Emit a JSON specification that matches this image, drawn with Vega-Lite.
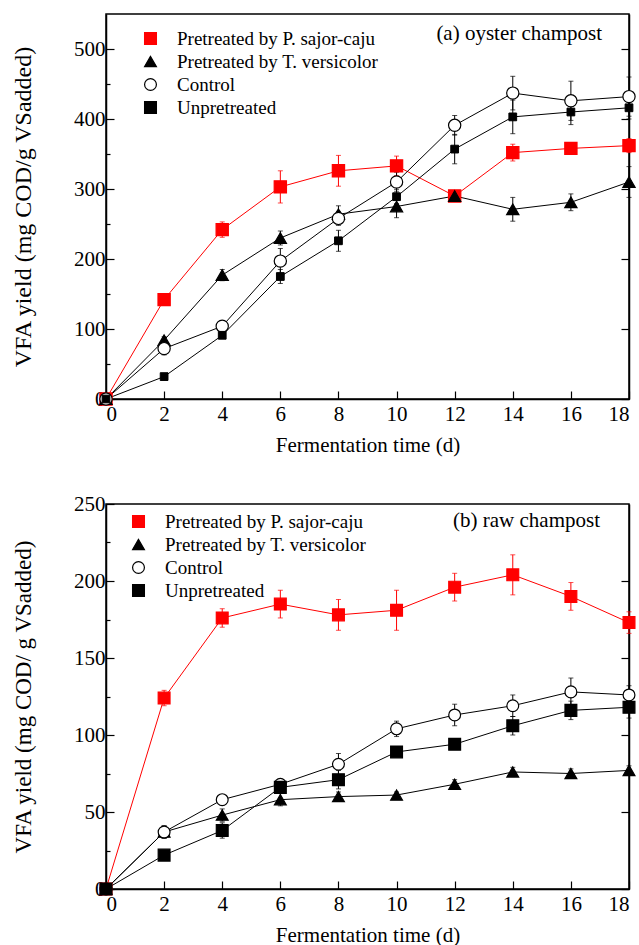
{
  "$schema": "https://vega.github.io/schema/vega-lite/v6.json",
  "padding": {"left": 10, "top": 13, "right": 8, "bottom": 0},
  "spacing": 36,
  "vconcat": [
    {
      "width": 523,
      "height": 385,
      "data": {"values": [
        {"t": 0, "v": 0, "e": 0, "s": "Pretreated by P. sajor-caju"},
        {"t": 2, "v": 142, "e": 4, "s": "Pretreated by P. sajor-caju"},
        {"t": 4, "v": 242, "e": 11, "s": "Pretreated by P. sajor-caju"},
        {"t": 6, "v": 303, "e": 23, "s": "Pretreated by P. sajor-caju"},
        {"t": 8, "v": 326, "e": 22, "s": "Pretreated by P. sajor-caju"},
        {"t": 10, "v": 333, "e": 14, "s": "Pretreated by P. sajor-caju"},
        {"t": 12, "v": 290, "e": 6, "s": "Pretreated by P. sajor-caju"},
        {"t": 14, "v": 352, "e": 12, "s": "Pretreated by P. sajor-caju"},
        {"t": 16, "v": 358, "e": 5, "s": "Pretreated by P. sajor-caju"},
        {"t": 18, "v": 362, "e": 10, "s": "Pretreated by P. sajor-caju"},
        {"t": 0, "v": 0, "e": 0, "s": "Pretreated by T. versicolor"},
        {"t": 2, "v": 84, "e": 5, "s": "Pretreated by T. versicolor"},
        {"t": 4, "v": 177, "e": 8, "s": "Pretreated by T. versicolor"},
        {"t": 6, "v": 230, "e": 10, "s": "Pretreated by T. versicolor"},
        {"t": 8, "v": 264, "e": 12, "s": "Pretreated by T. versicolor"},
        {"t": 10, "v": 275, "e": 16, "s": "Pretreated by T. versicolor"},
        {"t": 12, "v": 290, "e": 6, "s": "Pretreated by T. versicolor"},
        {"t": 14, "v": 271, "e": 17, "s": "Pretreated by T. versicolor"},
        {"t": 16, "v": 281, "e": 12, "s": "Pretreated by T. versicolor"},
        {"t": 18, "v": 310, "e": 22, "s": "Pretreated by T. versicolor"},
        {"t": 0, "v": 0, "e": 0, "s": "Control"},
        {"t": 2, "v": 72, "e": 9, "s": "Control"},
        {"t": 4, "v": 104, "e": 6, "s": "Control"},
        {"t": 6, "v": 197, "e": 18, "s": "Control"},
        {"t": 8, "v": 258, "e": 10, "s": "Control"},
        {"t": 10, "v": 310, "e": 14, "s": "Control"},
        {"t": 12, "v": 391, "e": 14, "s": "Control"},
        {"t": 14, "v": 437, "e": 24, "s": "Control"},
        {"t": 16, "v": 426, "e": 28, "s": "Control"},
        {"t": 18, "v": 432, "e": 28, "s": "Control"},
        {"t": 0, "v": 0, "e": 0, "s": "Unpretreated"},
        {"t": 2, "v": 32, "e": 3, "s": "Unpretreated"},
        {"t": 4, "v": 91, "e": 4, "s": "Unpretreated"},
        {"t": 6, "v": 175, "e": 10, "s": "Unpretreated"},
        {"t": 8, "v": 226, "e": 15, "s": "Unpretreated"},
        {"t": 10, "v": 289, "e": 10, "s": "Unpretreated"},
        {"t": 12, "v": 357, "e": 21, "s": "Unpretreated"},
        {"t": 14, "v": 403, "e": 24, "s": "Unpretreated"},
        {"t": 16, "v": 410, "e": 18, "s": "Unpretreated"},
        {"t": 18, "v": 416, "e": 16, "s": "Unpretreated"}
      ]},
      "title": {"text": "(a) oyster champost", "anchor": "end", "frame": "group", "dy": 34, "dx": -27, "fontSize": 21, "fontWeight": "normal", "font": "Liberation Serif", "color": "black"},
      "layer": [
        {
          "transform": [{"filter": "datum.e > 0"}],
          "mark": {"type": "errorbar", "ticks": true, "thickness": 1},
          "encoding": {
            "x": {"field": "t", "type": "quantitative", "scale": {"domain": [0, 18]}},
            "y": {"field": "v", "type": "quantitative", "scale": {"domain": [0, 550], "nice": false}, "axis": null},
            "yError": {"field": "e"},
            "color": {"field": "s", "type": "nominal", "scale": {"domain": ["Control", "Unpretreated", "Pretreated by P. sajor-caju", "Pretreated by T. versicolor"], "range": ["#000000", "#000000", "#ff0000", "#000000"]}, "legend": null}
          }
        },
        {
          "mark": {"type": "line", "strokeWidth": 1},
          "encoding": {
            "x": {"field": "t", "type": "quantitative", "scale": {"domain": [0, 18]},
              "axis": {"title": "Fermentation time (d)", "values": [0,1,2,3,4,5,6,7,8,9,10,11,12,13,14,15,16,17,18], "labelExpr": "datum.value % 2 === 0 ? datum.label : ''",
                "tickSize": {"condition": {"test": "datum.value % 2 === 0", "value": -8}, "value": -4}}},
            "y": {"field": "v", "type": "quantitative", "scale": {"domain": [0, 550], "nice": false},
              "axis": {"title": "VFA yield (mg COD/g VSadded)", "orient": "left", "values": [0,50,100,150,200,250,300,350,400,450,500], "labelExpr": "datum.value % 100 === 0 ? datum.label : ''",
                "tickSize": {"condition": {"test": "datum.value % 100 === 0", "value": -8}, "value": -4}}},
            "stroke": {"field": "s", "type": "nominal", "scale": {"domain": ["Pretreated by P. sajor-caju", "Pretreated by T. versicolor", "Control", "Unpretreated"], "range": ["#ff0000", "#000000", "#000000", "#000000"]},
              "legend": {"title": null, "orient": "none", "legendX": 35, "legendY": 15}}
          }
        },
        {
          "transform": [{"filter": "datum.s !== 'Unpretreated'"}],
          "mark": {"type": "point", "opacity": 1, "strokeWidth": 1.2, "size": 150},
          "encoding": {
            "x": {"field": "t", "type": "quantitative", "scale": {"domain": [0, 18]}},
            "y": {"field": "v", "type": "quantitative", "scale": {"domain": [0, 550], "nice": false},
              "axis": {"title": null, "orient": "right", "values": [0,100,200,300,400,500], "labels": false, "tickSize": -8}},
            "stroke": {"field": "s", "type": "nominal", "legend": {"title": null, "orient": "none", "legendX": 35, "legendY": 15}},
            "fill": {"field": "s", "type": "nominal", "scale": {"domain": ["Pretreated by P. sajor-caju", "Pretreated by T. versicolor", "Control", "Unpretreated"], "range": ["#ff0000", "#000000", "#ffffff", "#000000"]},
              "legend": {"title": null, "orient": "none", "legendX": 35, "legendY": 15}},
            "shape": {"field": "s", "type": "nominal", "scale": {"domain": ["Pretreated by P. sajor-caju", "Pretreated by T. versicolor", "Control", "Unpretreated"], "range": ["square", "triangle-up", "circle", "square"]},
              "legend": {"title": null, "orient": "none", "legendX": 35, "legendY": 15}}
          }
        },
        {
          "transform": [{"filter": "datum.s === 'Unpretreated'"}],
          "mark": {"type": "point", "opacity": 1, "strokeWidth": 1, "size": 60},
          "encoding": {
            "x": {"field": "t", "type": "quantitative", "scale": {"domain": [0, 18]}},
            "y": {"field": "v", "type": "quantitative", "scale": {"domain": [0, 550], "nice": false}, "axis": null},
            "stroke": {"field": "s", "type": "nominal", "legend": {"title": null, "orient": "none", "legendX": 35, "legendY": 15}},
            "fill": {"field": "s", "type": "nominal", "legend": {"title": null, "orient": "none", "legendX": 35, "legendY": 15}},
            "shape": {"field": "s", "type": "nominal", "legend": {"title": null, "orient": "none", "legendX": 35, "legendY": 15}}
          }
        }
      ],
      "resolve": {"axis": {"y": "independent"}}
    },
    {
      "width": 523,
      "height": 385,
      "data": {"values": [
        {"t": 0, "v": 0, "e": 0, "s": "Pretreated by P. sajor-caju"},
        {"t": 2, "v": 124, "e": 5, "s": "Pretreated by P. sajor-caju"},
        {"t": 4, "v": 176, "e": 6, "s": "Pretreated by P. sajor-caju"},
        {"t": 6, "v": 185, "e": 9, "s": "Pretreated by P. sajor-caju"},
        {"t": 8, "v": 178, "e": 10, "s": "Pretreated by P. sajor-caju"},
        {"t": 10, "v": 181, "e": 13, "s": "Pretreated by P. sajor-caju"},
        {"t": 12, "v": 196, "e": 9, "s": "Pretreated by P. sajor-caju"},
        {"t": 14, "v": 204, "e": 13, "s": "Pretreated by P. sajor-caju"},
        {"t": 16, "v": 190, "e": 9, "s": "Pretreated by P. sajor-caju"},
        {"t": 18, "v": 173, "e": 7, "s": "Pretreated by P. sajor-caju"},
        {"t": 0, "v": 0, "e": 0, "s": "Pretreated by T. versicolor"},
        {"t": 2, "v": 37, "e": 4, "s": "Pretreated by T. versicolor"},
        {"t": 4, "v": 48, "e": 4, "s": "Pretreated by T. versicolor"},
        {"t": 6, "v": 58, "e": 4, "s": "Pretreated by T. versicolor"},
        {"t": 8, "v": 60, "e": 3, "s": "Pretreated by T. versicolor"},
        {"t": 10, "v": 61, "e": 2, "s": "Pretreated by T. versicolor"},
        {"t": 12, "v": 68, "e": 3, "s": "Pretreated by T. versicolor"},
        {"t": 14, "v": 76, "e": 3, "s": "Pretreated by T. versicolor"},
        {"t": 16, "v": 75, "e": 3, "s": "Pretreated by T. versicolor"},
        {"t": 18, "v": 77, "e": 3, "s": "Pretreated by T. versicolor"},
        {"t": 0, "v": 0, "e": 0, "s": "Control"},
        {"t": 2, "v": 37, "e": 4, "s": "Control"},
        {"t": 4, "v": 58, "e": 3, "s": "Control"},
        {"t": 6, "v": 68, "e": 2, "s": "Control"},
        {"t": 8, "v": 81, "e": 7, "s": "Control"},
        {"t": 10, "v": 104, "e": 5, "s": "Control"},
        {"t": 12, "v": 113, "e": 7, "s": "Control"},
        {"t": 14, "v": 119, "e": 7, "s": "Control"},
        {"t": 16, "v": 128, "e": 9, "s": "Control"},
        {"t": 18, "v": 126, "e": 6, "s": "Control"},
        {"t": 0, "v": 0, "e": 0, "s": "Unpretreated"},
        {"t": 2, "v": 22, "e": 2, "s": "Unpretreated"},
        {"t": 4, "v": 38, "e": 5, "s": "Unpretreated"},
        {"t": 6, "v": 66, "e": 3, "s": "Unpretreated"},
        {"t": 8, "v": 71, "e": 6, "s": "Unpretreated"},
        {"t": 10, "v": 89, "e": 3, "s": "Unpretreated"},
        {"t": 12, "v": 94, "e": 2, "s": "Unpretreated"},
        {"t": 14, "v": 106, "e": 6, "s": "Unpretreated"},
        {"t": 16, "v": 116, "e": 6, "s": "Unpretreated"},
        {"t": 18, "v": 118, "e": 7, "s": "Unpretreated"}
      ]},
      "title": {"text": "(b) raw champost", "anchor": "end", "frame": "group", "dy": 42, "dx": -29, "fontSize": 21, "fontWeight": "normal", "font": "Liberation Serif", "color": "black"},
      "layer": [
        {
          "transform": [{"filter": "datum.e > 0"}],
          "mark": {"type": "errorbar", "ticks": true, "thickness": 1},
          "encoding": {
            "x": {"field": "t", "type": "quantitative", "scale": {"domain": [0, 18]}},
            "y": {"field": "v", "type": "quantitative", "scale": {"domain": [0, 250], "nice": false}, "axis": null},
            "yError": {"field": "e"},
            "color": {"field": "s", "type": "nominal", "scale": {"domain": ["Control", "Unpretreated", "Pretreated by P. sajor-caju", "Pretreated by T. versicolor"], "range": ["#000000", "#000000", "#ff0000", "#000000"]}, "legend": null}
          }
        },
        {
          "mark": {"type": "line", "strokeWidth": 1},
          "encoding": {
            "x": {"field": "t", "type": "quantitative", "scale": {"domain": [0, 18]},
              "axis": {"title": "Fermentation time (d)", "values": [0,1,2,3,4,5,6,7,8,9,10,11,12,13,14,15,16,17,18], "labelExpr": "datum.value % 2 === 0 ? datum.label : ''",
                "tickSize": {"condition": {"test": "datum.value % 2 === 0", "value": -8}, "value": -4}}},
            "y": {"field": "v", "type": "quantitative", "scale": {"domain": [0, 250], "nice": false},
              "axis": {"title": "VFA yield (mg COD/ g VSadded)", "titleFontSize": 23, "orient": "left", "values": [0,25,50,75,100,125,150,175,200,225,250], "labelExpr": "datum.value % 50 === 0 ? datum.label : ''",
                "tickSize": {"condition": {"test": "datum.value % 50 === 0", "value": -8}, "value": -4}}},
            "stroke": {"field": "s", "type": "nominal", "scale": {"domain": ["Pretreated by P. sajor-caju", "Pretreated by T. versicolor", "Control", "Unpretreated"], "range": ["#ff0000", "#000000", "#000000", "#000000"]},
              "legend": {"title": null, "orient": "none", "legendX": 23, "legendY": 8}}
          }
        },
        {
          "mark": {"type": "point", "opacity": 1, "strokeWidth": 1.2, "size": 140},
          "encoding": {
            "x": {"field": "t", "type": "quantitative", "scale": {"domain": [0, 18]}},
            "y": {"field": "v", "type": "quantitative", "scale": {"domain": [0, 250], "nice": false},
              "axis": {"title": null, "orient": "right", "values": [0,50,100,150,200], "labels": false, "tickSize": -8}},
            "stroke": {"field": "s", "type": "nominal", "legend": {"title": null, "orient": "none", "legendX": 23, "legendY": 8}},
            "fill": {"field": "s", "type": "nominal", "scale": {"domain": ["Pretreated by P. sajor-caju", "Pretreated by T. versicolor", "Control", "Unpretreated"], "range": ["#ff0000", "#000000", "#ffffff", "#000000"]},
              "legend": {"title": null, "orient": "none", "legendX": 23, "legendY": 8}},
            "shape": {"field": "s", "type": "nominal", "scale": {"domain": ["Pretreated by P. sajor-caju", "Pretreated by T. versicolor", "Control", "Unpretreated"], "range": ["square", "triangle-up", "circle", "square"]},
              "legend": {"title": null, "orient": "none", "legendX": 23, "legendY": 8}}
          }
        }
      ],
      "resolve": {"axis": {"y": "independent"}}
    }
  ],
  "resolve": {
    "scale": {"x": "independent", "y": "independent", "stroke": "independent", "fill": "independent", "shape": "independent", "color": "independent"}
  },
  "config": {
    "font": "Liberation Serif",
    "view": {"stroke": "black", "strokeWidth": 1.5},
    "axis": {"grid": false, "domainColor": "black", "domainWidth": 1.5, "tickColor": "black", "tickWidth": 1.2, "labelColor": "black", "titleColor": "black", "labelFont": "Liberation Serif", "titleFont": "Liberation Serif", "labelFontSize": 21, "titleFontSize": 21, "titleFontWeight": "normal"},
    "axisY": {"titlePadding": 38, "labelPadding": 9, "titleFontSize": 24},
    "axisX": {"titlePadding": 10, "labelPadding": 12},
    "legend": {"labelFont": "Liberation Serif", "labelFontSize": 19, "labelColor": "black", "labelOffset": 17, "labelLimit": 400, "rowPadding": 3, "padding": 0, "symbolSize": 140, "symbolStrokeWidth": 1.2},
    "errorbar": {"thickness": 1}
  }
}
